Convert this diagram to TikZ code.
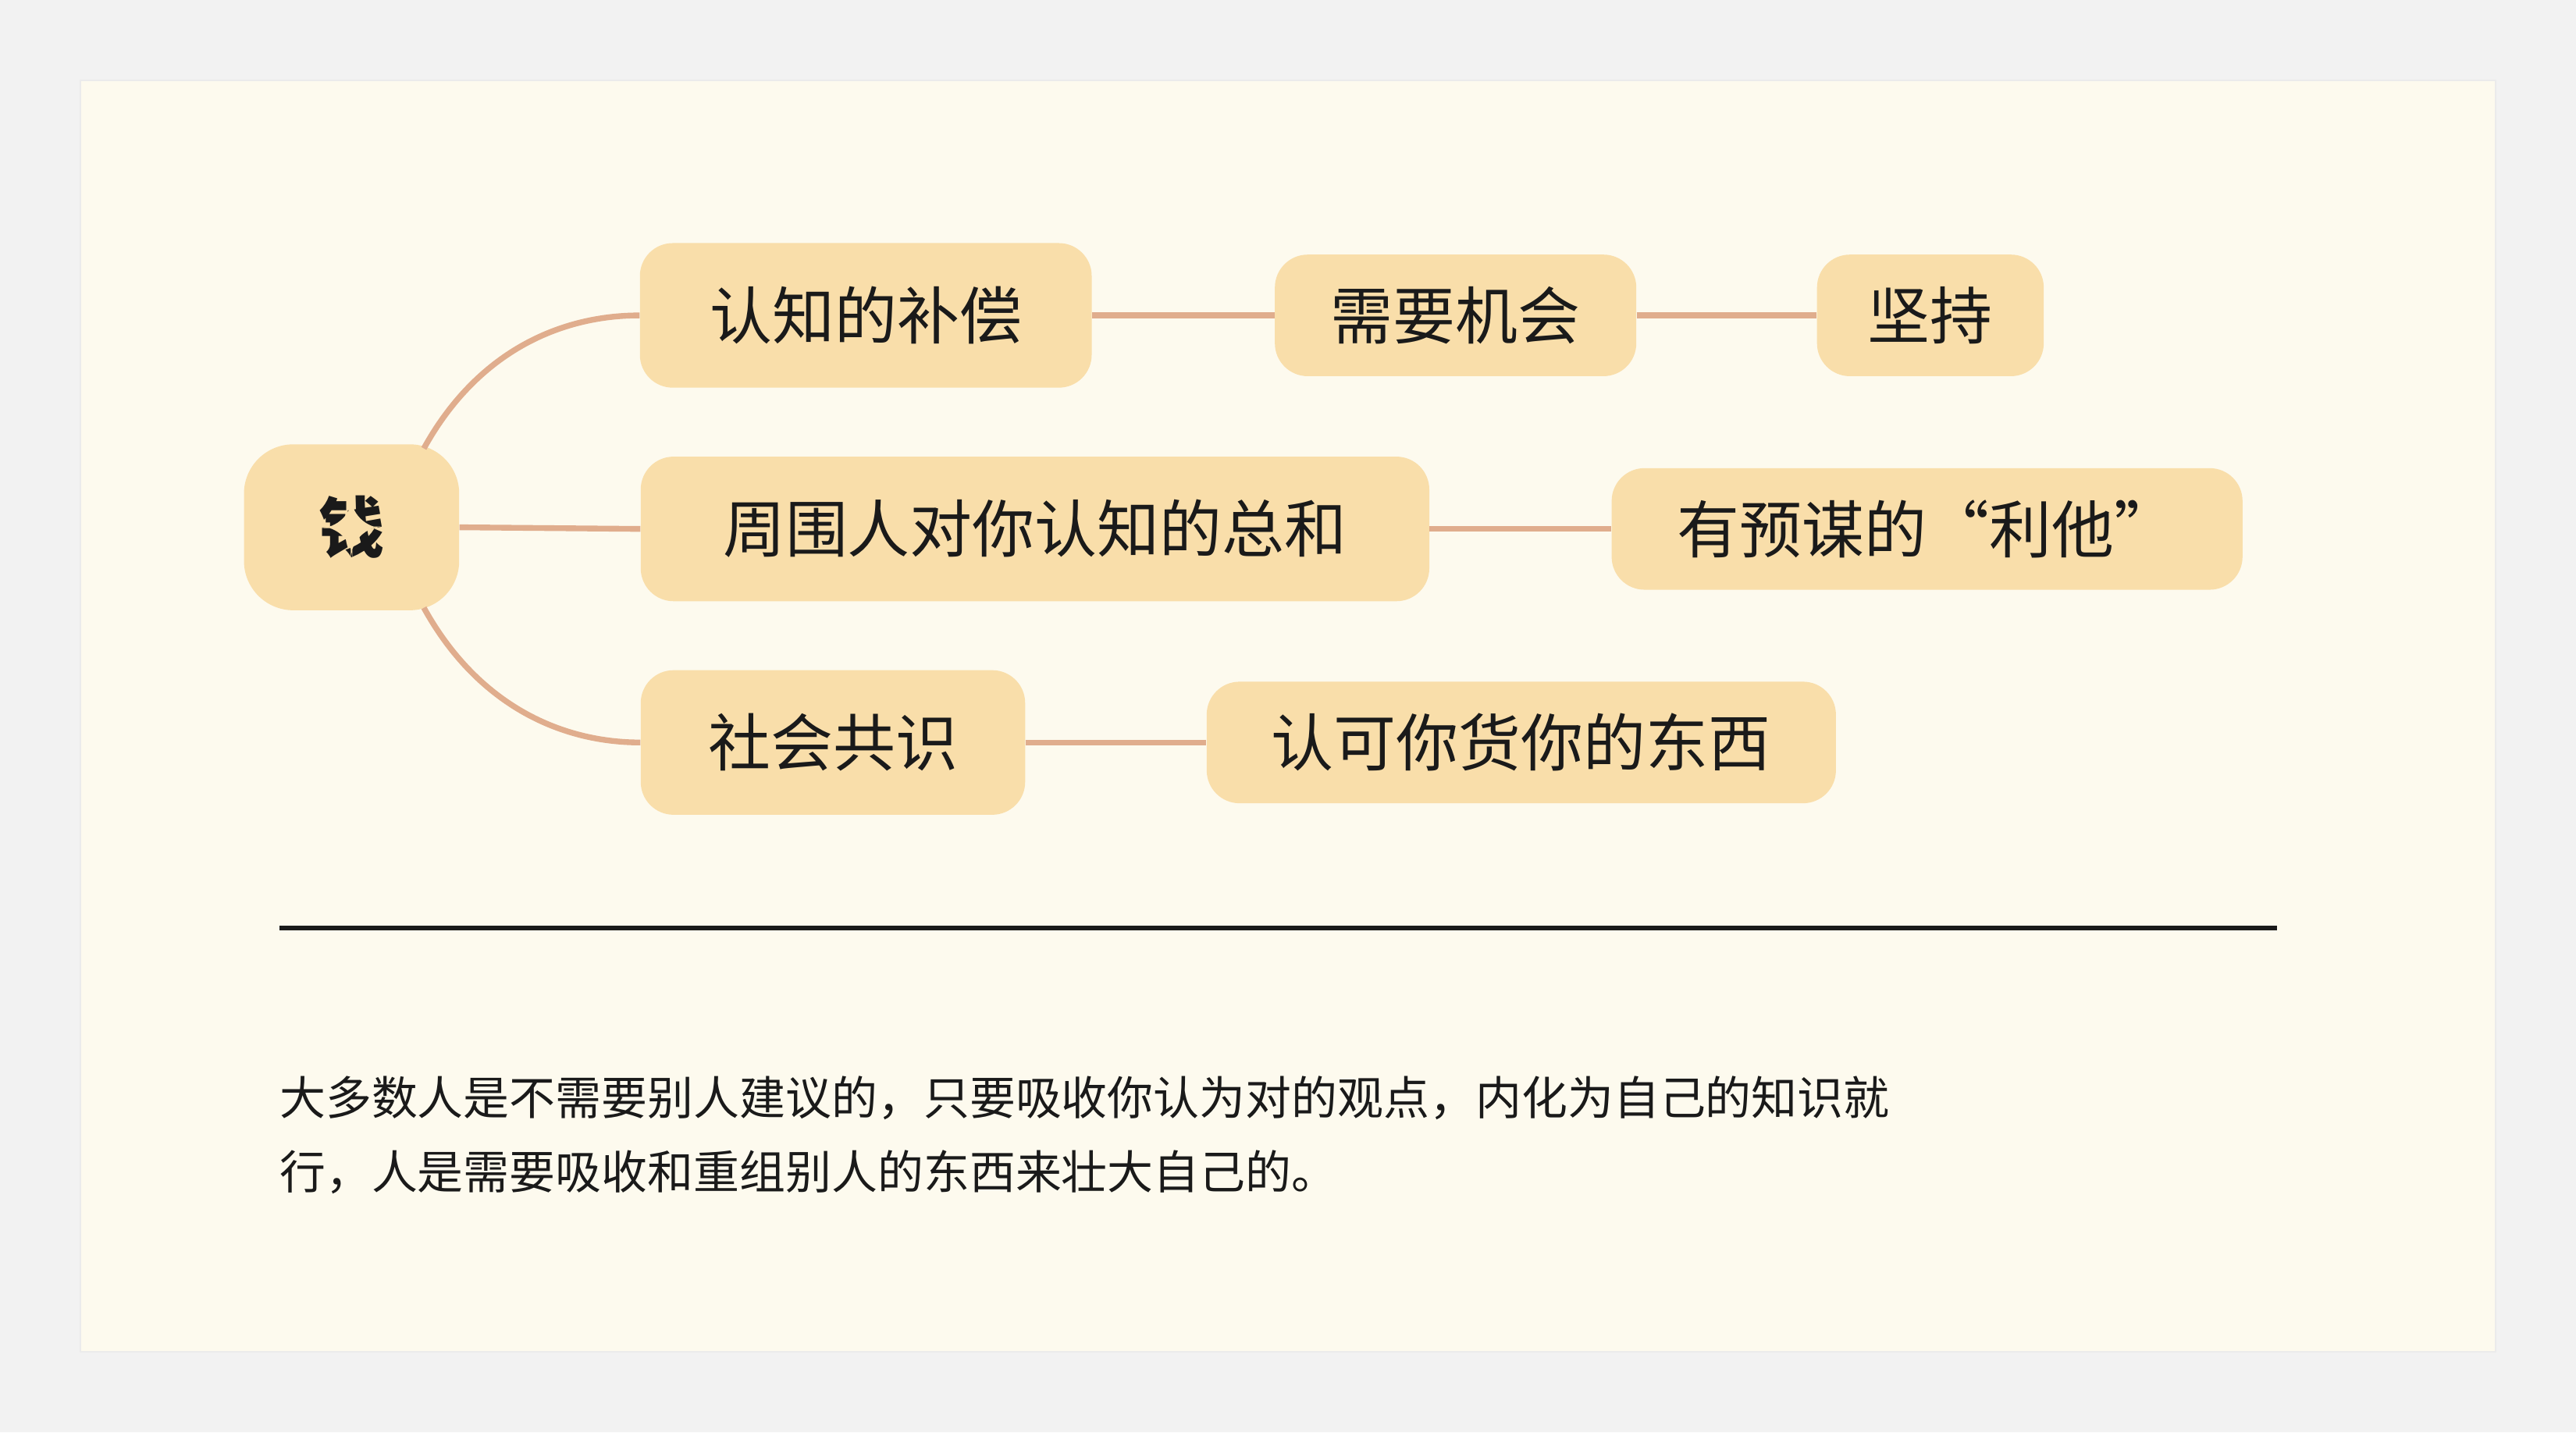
\documentclass[tikz,border=0pt]{standalone}
\usepackage{fontspec}
\setmainfont{Noto Sans CJK SC}
\definecolor{bgc}{HTML}{F2F2F2}
\definecolor{card}{HTML}{FDFAEE}
\definecolor{nodef}{HTML}{F9DEAA}
\definecolor{linkc}{HTML}{E0AD8D}
\definecolor{txt}{HTML}{1A1A1A}
\begin{document}
\begin{tikzpicture}[x=1pt,y=-1pt,
  box/.style={fill=nodef,rounded corners=20pt,inner sep=0pt,align=center,text=txt,font=\fontsize{38}{46}\selectfont},
  link/.style={draw=linkc,line width=3.5pt}]
\fill[bgc] (0,0) rectangle (1568,872);
\fill[card] (49,49) rectangle (1519,823);
\draw[black!8,line width=0.6pt] (49,49) rectangle (1519,823);
\node[box,rounded corners=30pt,minimum width=131pt,minimum height=101pt,font=\fontsize{40}{46}\selectfont\bfseries] (root) at (214,321) {钱};
\node[box,minimum width=275pt,minimum height=88pt] (a1) at (527,192) {认知的补偿};
\node[box,minimum width=220pt,minimum height=74pt] (a2) at (886,192) {需要机会};
\node[box,minimum width=138pt,minimum height=74pt] (a3) at (1175,192) {坚持};
\node[box,minimum width=480pt,minimum height=88pt] (b1) at (630,322) {周围人对你认知的总和};
\node[box,minimum width=384pt,minimum height=74pt] (b2) at (1173,322) {有预谋的“利他”};
\node[box,minimum width=234pt,minimum height=88pt] (c1) at (507,452) {社会共识};
\node[box,minimum width=383pt,minimum height=74pt] (c2) at (926,452) {认可你货你的东西};
\coordinate (ru) at (258,273);
\coordinate (rd) at (258,370);
\begin{scope}[on background layer/.style={}]
\draw[link] (ru) .. controls (290,215) and (340,192) .. (a1.west);
\draw[link] (rd) .. controls (290,428) and (340,452) .. (c1.west);
\draw[link] (root.east) -- (b1.west);
\draw[link] (a1.east) -- (a2.west);
\draw[link] (a2.east) -- (a3.west);
\draw[link] (b1.east) -- (b2.west);
\draw[link] (c1.east) -- (c2.west);
\end{scope}
\node[box] at (root) {};
\draw[txt,line width=3pt] (170,565) coordinate (l1) -- (1386,565) coordinate (l2);
\node[anchor=north west,inner sep=0pt,align=left,text=txt,font=\fontsize{28}{45}\selectfont] (para) at (170,655) {大多数人是不需要别人建议的，只要吸收你认为对的观点，内化为自己的知识就\\行，人是需要吸收和重组别人的东西来壮大自己的。};
\end{tikzpicture}
\end{document}
